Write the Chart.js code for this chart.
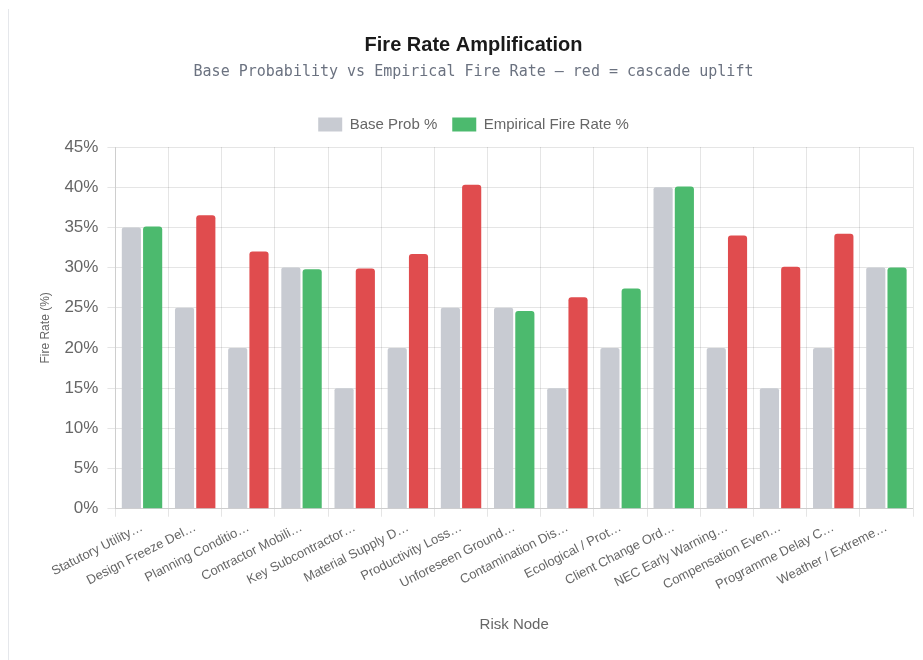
<!DOCTYPE html>
<html>
<head>
<meta charset="utf-8">
<script src="https://cdn.jsdelivr.net/npm/chart.js@4/dist/chart.umd.min.js"></script>
<style>
  html, body { margin: 0; padding: 0; background: #fff; }
  #wrap {
    position: absolute; left: 8px; top: 9px;
    width: 914px; height: 651px;
    border-left: 1px solid #e5e7eb;
  }
</style>
</head>
<body>
<div id="wrap"><canvas id="fireChart"></canvas></div>
<script>
const riskNodes = [
  'Statutory Utility…', 'Design Freeze Del…', 'Planning Conditio…', 'Contractor Mobili…',
  'Key Subcontractor…', 'Material Supply D…', 'Productivity Loss…', 'Unforeseen Ground…',
  'Contamination Dis…', 'Ecological / Prot…', 'Client Change Ord…', 'NEC Early Warning…',
  'Compensation Even…', 'Programme Delay C…', 'Weather / Extreme…'
];
const baseProb = [35, 25, 20, 30, 15, 20, 25, 25, 15, 20, 40, 20, 15, 20, 30];
const empiricalRate = [35.1, 36.5, 32.0, 29.8, 29.9, 31.7, 40.3, 24.6, 26.3, 27.4, 40.1, 34.0, 30.1, 34.2, 30.0];
const cascadeUplift = [false, true, true, false, true, true, true, false, true, false, false, true, true, true, false];
const yTicks = [0, 5, 10, 15, 20, 25, 30, 35, 40, 45];

const GREY = '#c8cbd2';
const GREEN = '#4cba6e';
const RED = '#e04c4e';
const SANS = "'Liberation Sans', Arial, sans-serif";

// a little extra room under the legend
const legendGap = {
  id: 'legendGap',
  beforeInit(chart) {
    const fit = chart.legend.fit;
    chart.legend.fit = function () {
      fit.bind(chart.legend)();
      this.height += 5;
    };
  }
};

const ctx = document.getElementById('fireChart').getContext('2d');

new Chart(ctx, {
  type: 'bar',
  data: {
    labels: riskNodes,
    datasets: [
      {
        label: 'Base Prob %',
        data: baseProb,
        backgroundColor: GREY,
        borderRadius: 2
      },
      {
        label: 'Empirical Fire Rate %',
        data: empiricalRate,
        backgroundColor: cascadeUplift.map(u => u ? RED : GREEN),
        borderRadius: 3
      }
    ]
  },
  plugins: [legendGap],
  options: {
    responsive: true,
    maintainAspectRatio: false,
    animation: false,
    layout: { padding: { top: 14, left: 25, right: 10, bottom: 22 } },
    plugins: {
      title: {
        display: true,
        text: 'Fire Rate Amplification',
        color: '#1a1a1a',
        font: { family: SANS, size: 20, weight: 'bold' },
        padding: { top: 10, bottom: 6 }
      },
      subtitle: {
        display: true,
        text: 'Base Probability vs Empirical Fire Rate — red = cascade uplift',
        color: '#6b7280',
        font: { family: "'DejaVu Sans Mono', monospace", size: 15 },
        padding: { top: 0, bottom: 21 }
      },
      legend: {
        labels: {
          boxWidth: 24,
          boxHeight: 14,
          padding: 15,
          color: '#666',
          font: { family: SANS, size: 15 },
          generateLabels: chart => chart.data.datasets.map((ds, i) => ({
            text: ds.label,
            fillStyle: i === 0 ? GREY : GREEN,
            strokeStyle: i === 0 ? GREY : GREEN,
            lineWidth: 0,
            hidden: !chart.isDatasetVisible(i),
            datasetIndex: i,
            fontColor: '#666'
          }))
        }
      }
    },
    scales: {
      x: {
        title: {
          display: true,
          text: 'Risk Node',
          color: '#666',
          font: { family: SANS, size: 15 },
          padding: { top: 20, bottom: 4 }
        },
        ticks: {
          color: '#666',
          minRotation: 27,
          maxRotation: 27,
          font: { family: SANS, size: 13 }
        },
        grid: { color: 'rgba(0,0,0,0.1)' }
      },
      y: {
        min: 0,
        max: 45,
        title: {
          display: true,
          text: 'Fire Rate (%)',
          color: '#666',
          font: { family: SANS, size: 12 },
          padding: { top: 4, bottom: 3 }
        },
        afterBuildTicks: axis => { axis.ticks = yTicks.map(v => ({ value: v })); },
        ticks: {
          color: '#666',
          padding: 9,
          font: { family: SANS, size: 17 },
          callback: v => v + '%'
        },
        grid: { color: 'rgba(0,0,0,0.1)' }
      }
    }
  }
});
</script>
</body>
</html>
